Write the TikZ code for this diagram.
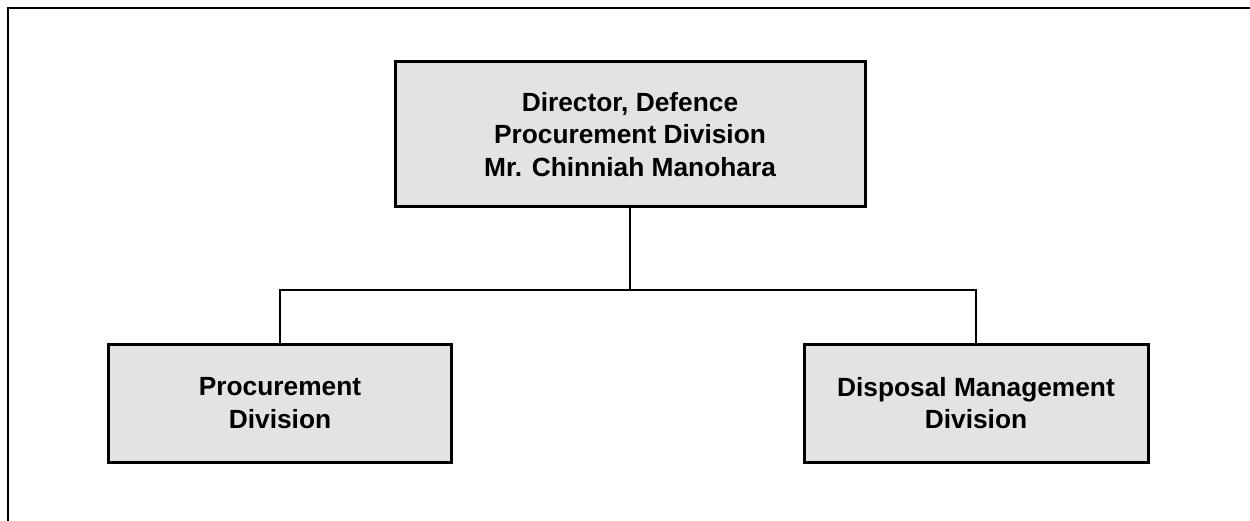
\documentclass[tikz,border=0pt]{standalone}
\usepackage{fontspec}
\setmainfont{Liberation Sans}
\begin{document}
\begin{tikzpicture}[x=1pt,y=-1pt,
  unitbox/.style={draw=black, line width=3pt, fill=boxgray, align=center,
    font=\fontsize{26.3}{32.5}\selectfont\bfseries, inner sep=0pt},
  link/.style={draw=black, line width=2.6pt}]
  \definecolor{boxgray}{HTML}{E3E3E3}
  \useasboundingbox (0,0) rectangle (1250,521);
  % open page frame: top and left rules only
  \draw[line width=2.7pt] (8,521) -- (8,8) -- (1250,8);
  % organisation units
  \node[unitbox, minimum width=470pt, minimum height=145pt] (director) at (630,134.5)
    {Director, Defence\\Procurement Division\\Mr. Chinniah Manohara};
  \node[unitbox, minimum width=343pt, minimum height=118pt] (procure) at (280,403)
    {Procurement\\Division};
  \node[unitbox, minimum width=344pt, minimum height=118pt] (disposal) at (976,403)
    {Disposal Management\\Division};
  % reporting lines
  \coordinate (junction) at (630,290);
  \draw[link] (director.south) -- (junction);
  \draw[link] (procure.north) |- (junction) -| (disposal.north);
\end{tikzpicture}
\end{document}
